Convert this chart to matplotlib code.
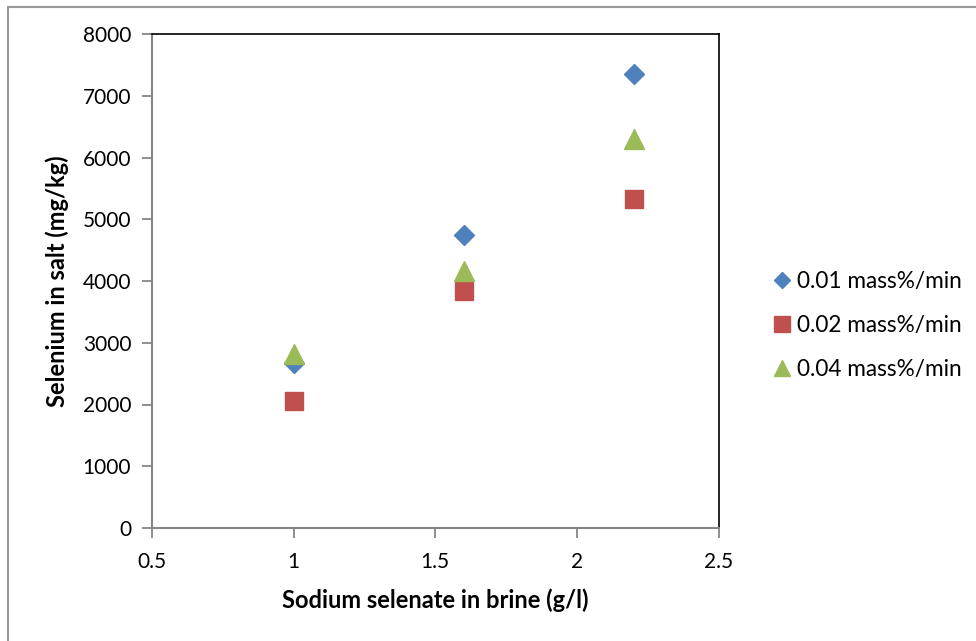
import matplotlib.pyplot as plt
from matplotlib.patches import Rectangle

# Sodium selenate concentration in brine (g/l)
concentration = [1.0, 1.6, 2.2]

# Selenium content in salt (mg/kg) for each feed rate
rate_001 = [2670, 4745, 7350]
rate_002 = [2055, 3840, 5335]
rate_004 = [2825, 4160, 6305]

series_labels = ["0.01 mass%/min", "0.02 mass%/min", "0.04 mass%/min"]
x_ticks = [0.5, 1, 1.5, 2, 2.5]
y_ticks = [0, 1000, 2000, 3000, 4000, 5000, 6000, 7000, 8000]

plt.rcParams['font.family'] = ['Lato', 'DejaVu Sans']

W, H = 976, 641
fig = plt.figure(figsize=(W / 100, H / 100), dpi=100)

# outer chart frame (runs past the right and bottom edges)
fig.patches.append(Rectangle((8 / W, -0.2), 1.2, 1.2 - 7 / H, transform=fig.transFigure,
                             fill=False, edgecolor='#9a9a9a', linewidth=1.5, zorder=0))

left, right, top, bottom = 152, 718.5, 34, 528
ax = fig.add_axes([left / W, 1 - bottom / H, (right - left) / W, (bottom - top) / H])

ax.plot(concentration, rate_001, linestyle='none', marker='D', ms=9.8,
        color='#4F81BD', label=series_labels[0], zorder=3)
ax.plot(concentration, rate_002, linestyle='none', marker='s', ms=13.5,
        color='#C0504D', label=series_labels[1], zorder=3)
ax.plot(concentration, rate_004, linestyle='none', marker='^', ms=13.7,
        color='#9BBB59', label=series_labels[2], zorder=4)

ax.set_xlim(0.5, 2.5)
ax.set_ylim(0, 8000)
ax.set_xticks(x_ticks)
ax.set_xticklabels([f"{t:g}" for t in x_ticks])
ax.set_yticks(y_ticks)
ax.set_yticklabels([str(t) for t in y_ticks])

for side in ('left', 'bottom'):
    ax.spines[side].set_color('#868686')
    ax.spines[side].set_linewidth(1.5)
for side in ('top', 'right'):
    ax.spines[side].set_color('black')
    ax.spines[side].set_linewidth(1.2)

ax.tick_params(axis='both', direction='out', length=7, width=1.3, color='#868686',
               labelsize=15, labelcolor='black')
ax.tick_params(axis='y', pad=8)
ax.tick_params(axis='x', pad=10)

ax.set_xlabel("Sodium selenate in brine (g/l)", fontsize=17, fontweight='bold', labelpad=12)
ax.set_ylabel("Selenium in salt (mg/kg)", fontsize=17, fontweight='bold', labelpad=10)

leg = ax.legend(loc='center left', bbox_to_anchor=(772 / W, 1 - 325.5 / H),
                bbox_transform=fig.transFigure, frameon=False,
                fontsize=16.3, handlelength=0.9, handletextpad=0.2,
                labelspacing=1.0, borderaxespad=0, borderpad=0, markerscale=0.85)

fig.savefig("out.png", dpi=100)
